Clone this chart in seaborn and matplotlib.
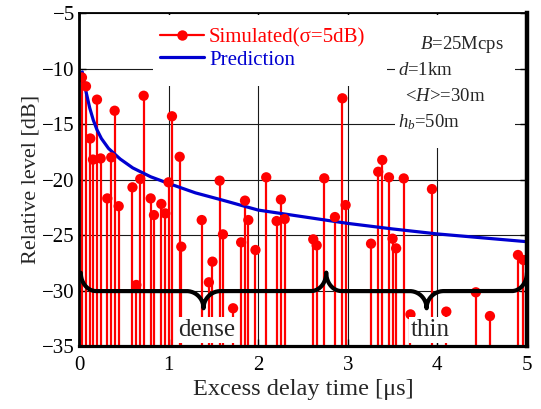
import numpy as np
import matplotlib
matplotlib.use("Agg")
import matplotlib.pyplot as plt
import seaborn as sns
from matplotlib.lines import Line2D
from matplotlib.patches import Rectangle

sns.set_style("ticks")
plt.rcParams["font.family"] = ["Liberation Serif", "DejaVu Serif"]
plt.rcParams["mathtext.fontset"] = "custom"
plt.rcParams["mathtext.rm"] = "Liberation Serif"
plt.rcParams["mathtext.it"] = "Liberation Serif:italic"

# simulated delay profile (excess delay in us, relative level in dB)
sim_delay = [0.033, 0.078, 0.126, 0.156, 0.201, 0.242, 0.316, 0.360, 0.398, 0.443,
             0.597, 0.640, 0.684, 0.722, 0.800, 0.837, 0.919, 0.963, 1.000, 1.038,
             1.124, 1.142, 1.370, 1.450, 1.490, 1.570, 1.607, 1.720, 1.810, 1.853,
             1.890, 1.970, 2.090, 2.206, 2.254, 2.296, 2.615, 2.653, 2.738, 2.857,
             2.940, 2.976, 3.260, 3.340, 3.385, 3.460, 3.500, 3.540, 3.625, 3.700,
             3.940, 4.100, 4.430, 4.587, 4.900, 4.960]
sim_level = [-10.8, -11.6, -16.3, -18.2, -12.8, -18.1, -21.7, -18.0, -13.8, -22.4,
             -20.7, -29.5, -19.95, -12.45, -21.7, -23.2, -22.2, -23.05, -20.25, -14.3,
             -17.95, -26.05, -23.65, -29.26, -27.4, -20.1, -24.94, -31.6, -25.66, -21.9,
             -23.65, -26.35, -19.8, -23.74, -21.8, -23.56, -25.39, -25.93, -19.89, -23.38,
             -12.68, -22.3, -25.78, -19.3, -18.24, -19.8, -25.33, -26.2, -19.9, -32.15,
             -20.86, -31.9, -30.16, -32.3, -26.8, -27.25]

# predicted decay
pred_delay = [0.037, 0.06, 0.086, 0.12, 0.16, 0.2, 0.25, 0.33, 0.46, 0.6, 0.8,
              1.0, 1.3, 1.6, 2.0, 2.5, 3.0, 3.5, 4.0, 4.5, 5.0]
pred_level = [-10.3, -11.4, -12.35, -13.55, -14.65, -15.5, -16.3, -17.2, -18.15, -18.95,
              -19.75, -20.35, -21.2, -21.85, -22.75, -23.35, -23.95, -24.45, -24.9,
              -25.25, -25.6]

# dense / thin regions
region_spans = [(0.02, 2.76), (2.76, 5.0)]
region_names = ["dense", "thin"]
brace_level = -30.05

params = [r"$B$=25Mcps", r"$d$=1km", r"<$H$>=30m", r"$h_b$=50m"]

fig, ax = plt.subplots(figsize=(5.41, 4.09), dpi=100)
fig.subplots_adjust(left=0.146, right=0.974, top=0.968, bottom=0.154)

ax.set_axisbelow(True)
ax.grid(True, color="0.1", lw=0.8)

ax.vlines(sim_delay, -35, sim_level, color="red", lw=1.6, zorder=1.55)
sns.lineplot(x=pred_delay, y=pred_level, color="#0000d0", lw=2.3, ax=ax, zorder=1.6)
sns.scatterplot(x=sim_delay, y=sim_level, color="red", s=55, edgecolor="none",
                ax=ax, zorder=1.65, legend=False)


def brace(x0, x1, y, hook=1.65, tip=1.55, we=0.17, wm=0.19, n=40):
    t = np.linspace(0, np.pi / 2, n)
    xm = (x0 + x1) / 2
    xa = x0 + we * (1 - np.cos(t))
    ya = y + hook * (1 - np.sin(t))
    xb = xm - wm + wm * np.sin(t)
    yb = y - tip + tip * np.cos(t)
    xc = (2 * xm - xb)[::-1]
    yc = yb[::-1]
    xd = (x1 - (xa - x0))[::-1]
    yd = ya[::-1]
    return np.concatenate([xa, xb, xc, xd]), np.concatenate([ya, yb, yc, yd])


for (x0, x1), name in zip(region_spans, region_names):
    bx, by = brace(x0, x1, brace_level)
    ax.plot(bx, by, color="black", lw=3, zorder=1.7, solid_capstyle="round")
    ax.text((x0 + x1) / 2 + 0.04, -33.55, name, fontsize=18, ha="center", va="center",
            zorder=1.75, bbox=dict(facecolor="white", edgecolor="none", pad=1.5))

# white areas behind legend and parameter block
ax.add_patch(Rectangle((0.165, 0.781), 0.5225, 0.213, transform=ax.transAxes,
                       facecolor="white", edgecolor="none", zorder=1.8))
ax.add_patch(Rectangle((0.705, 0.595), 0.268, 0.399, transform=ax.transAxes,
                       facecolor="white", edgecolor="none", zorder=1.8))

param_pos = [(0.761, 0.907), (0.712, 0.829), (0.728, 0.748), (0.712, 0.673)]
for txt, (px, py) in zip(params, param_pos):
    ax.text(px, py, txt, transform=ax.transAxes, fontsize=13.5, ha="left", va="center",
            zorder=2)

handles = [Line2D([], [], color="red", lw=1.6, marker="o", ms=7.5, mec="none"),
           Line2D([], [], color="#0000d0", lw=2.3)]
ax.legend(handles, ["Simulated(\u03c3=5dB)", "Prediction"], loc="upper left",
          bbox_to_anchor=(0.181, 0.955), frameon=False, fontsize=15,
          labelcolor=["red", "#0000d0"], handlelength=2.1, handletextpad=0.25,
          labelspacing=0.12, borderpad=0, borderaxespad=0)

ax.set_xlim(0, 5)
ax.set_ylim(-35, -5)
ax.set_xticks(range(6))
ax.set_yticks(range(-35, -4, 5))
ax.tick_params(direction="in", top=True, right=True, length=5, width=1,
               labelsize=15, colors="black")
ax.tick_params(axis="x", pad=7)
ax.tick_params(axis="y", pad=3)

for side, lw in [("left", 2.0), ("bottom", 2.3), ("right", 3.2), ("top", 1.3)]:
    ax.spines[side].set_linewidth(lw)
    ax.spines[side].set_color("black")

ax.set_xlabel("Excess delay time [\u03bcs]", fontsize=17.5, labelpad=3)
ax.set_ylabel("Relative level [dB]", fontsize=16, labelpad=1)

fig.savefig("out.png", dpi=100)
